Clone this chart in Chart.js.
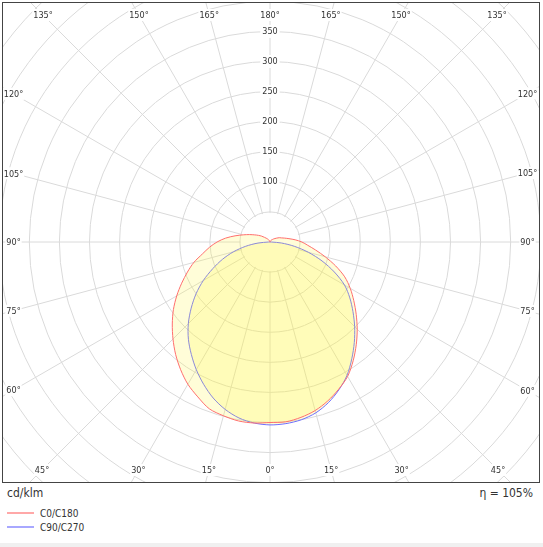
<!DOCTYPE html>
<html>
<head>
<meta charset="utf-8">
<script src="https://cdn.jsdelivr.net/npm/chart.js@4.4.1/dist/chart.umd.min.js"></script>
<style>
  body { margin: 0; background: #fff; font-family: "DejaVu Sans Condensed", "DejaVu Sans", sans-serif; color: #333; }
  #pagina { position: relative; width: 543px; height: 547px; overflow: hidden; }
  #marco { position: absolute; left: 2px; top: 2px; width: 536px; height: 479px; border: 1px solid #444; overflow: hidden; }
  #lienzo { position: absolute; left: -101px; top: -129px; width: 736px; height: 736px; }
  #unidad { position: absolute; left: 7px; top: 486px; font-size: 12px; }
  #eta { position: absolute; right: 10px; top: 486px; font-size: 12px; }
  #leyenda { position: absolute; left: 7px; top: 506px; font-size: 10px; }
  .item { height: 14px; display: flex; align-items: center; }
  .item svg { margin-right: 6px; }
  #pie { position: absolute; left: 0; top: 543px; width: 543px; height: 4px; background: #f0f0f0; }
</style>
</head>
<body>
<div id="pagina">
  <div id="marco">
    <div id="lienzo"><canvas id="grafica"></canvas></div>
  </div>
  <div id="unidad">cd/klm</div>
  <div id="eta">η = 105%</div>
  <div id="leyenda"></div>
  <div id="pie"></div>
</div>
<script>
// Angulos gamma cada 5 grados (0 = abajo, 180 = arriba)
const gamma = [0, 5, 10, 15, 20, 25, 30, 35, 40, 45, 50, 55, 60, 65, 70, 75, 80, 85, 90,
  95, 100, 105, 110, 115, 120, 125, 130, 135, 140, 145, 150, 155, 160, 165, 170, 175, 180];

// Plano C0/C180 (rojo): lado derecho y lado izquierdo, cd/klm
const c0 = [300, 300, 296, 290, 281, 270, 258, 241, 223, 205, 187, 170, 154, 137, 116, 95, 77, 63, 53,
  42, 32, 25, 20, 17, 13, 10, 8, 6, 5, 4, 3, 2, 1.5, 1, 0.5, 0.2, 0];
const c180 = [300, 302, 302, 299, 295, 284, 273, 259, 244, 228, 212, 196, 179, 162, 146, 131, 114, 101, 88,
  74, 59, 46, 36, 28, 22, 17, 12, 9, 7, 5, 4, 3, 2, 1.5, 1, 0.5, 0];

// Plano C90/C270 (azul)
const c90 = [304, 303, 300, 294, 284, 271, 256, 237, 218, 199, 180, 162, 143, 118, 92, 66, 41, 19, 2,
  0, 0, 0, 0, 0, 0, 0, 0, 0, 0, 0, 0, 0, 0, 0, 0, 0, 0];
const c270 = [304, 302, 297, 288, 276, 261, 245, 228, 211, 192, 171, 150, 128, 105, 84, 63, 41, 20, 2,
  0, 0, 0, 0, 0, 0, 0, 0, 0, 0, 0, 0, 0, 0, 0, 0, 0, 0];

const anillosConTexto = [100, 150, 200, 250, 300, 350];
const nombres = ['C0/C180', 'C90/C270'];
const colores = ['rgb(255, 110, 110)', 'rgb(110, 110, 255)'];
const relleno = 'rgba(255, 245, 60, 0.2)';
const eta = 105;

// El radar va en sentido horario desde arriba: derecha 180..0, izquierda 5..175
const n = gamma.length - 1;
const indices = [];
for (let i = 0; i < 2 * n; i++) indices.push(i);
const gammaDe = i => i <= n ? gamma[n - i] : gamma[i - n];
const etiquetas = indices.map(i => gammaDe(i) + '°');
const curva = (der, izq) => indices.map(i => i <= n ? der[n - i] : izq[i - n]);

// Polo del diagrama dentro del marco
const POLO_X = 267;
const POLO_Y = 239;
// Distancias del polo a la linea de textos de angulo
const BORDE = { izq: 256.5, der: 257.5, arr: 227, aba: 228 };

const extras = {
  id: 'extras',
  beforeDatasetsDraw(chart) {
    // Sin radios dentro del primer anillo
    const r = chart.scales.r;
    const ctx = chart.ctx;
    ctx.save();
    ctx.fillStyle = '#fff';
    ctx.beginPath();
    ctx.arc(r.xCenter, r.yCenter, r.getDistanceFromCenterForValue(50) - 1, 0, Math.PI * 2);
    ctx.fill();
    ctx.restore();
  },
  afterDraw(chart) {
    const r = chart.scales.r;
    const ctx = chart.ctx;
    ctx.save();
    ctx.font = '9px "DejaVu Sans Condensed", "DejaVu Sans", sans-serif';
    ctx.textAlign = 'center';
    ctx.textBaseline = 'middle';
    indices.forEach(i => {
      if (gammaDe(i) % 15 !== 0) return;
      const p = r.getPointPosition(i, 100);
      const ux = (p.x - r.xCenter) / 100;
      const uy = (p.y - r.yCenter) / 100;
      let t = Infinity;
      if (ux > 0.001) t = Math.min(t, BORDE.der / ux);
      if (ux < -0.001) t = Math.min(t, BORDE.izq / -ux);
      if (uy > 0.001) t = Math.min(t, BORDE.aba / uy);
      if (uy < -0.001) t = Math.min(t, BORDE.arr / -uy);
      const q = r.getPointPosition(i, t);
      const w = ctx.measureText(etiquetas[i]).width;
      ctx.fillStyle = '#fff';
      ctx.fillRect(q.x - w / 2 - 1, q.y - 6, w + 2, 12);
      ctx.fillStyle = '#333';
      ctx.fillText(etiquetas[i], q.x, q.y + 1);
    });
    ctx.restore();
  }
};

const chart = new Chart(document.getElementById('grafica'), {
  type: 'radar',
  data: {
    labels: etiquetas,
    datasets: [{
      label: nombres[0],
      data: curva(c0, c180),
      borderColor: colores[0],
      backgroundColor: relleno,
      borderWidth: 1,
      pointRadius: 0,
      tension: 0.3,
      fill: 'origin'
    }, {
      label: nombres[1],
      data: curva(c90, c270),
      borderColor: colores[1],
      backgroundColor: relleno,
      borderWidth: 1,
      pointRadius: 0,
      tension: 0.3,
      fill: 'origin'
    }]
  },
  options: {
    responsive: true,
    maintainAspectRatio: false,
    animation: false,
    plugins: { legend: { display: false }, tooltip: { enabled: false } },
    scales: {
      r: {
        min: 0,
        max: 600,
        grid: { circular: true, color: '#dadada', lineWidth: 1 },
        angleLines: {
          color: ctx => gammaDe(ctx.index) % 15 === 0 ? '#dadada' : null,
          lineWidth: 1
        },
        pointLabels: { display: false },
        ticks: {
          stepSize: 50,
          color: '#333',
          font: { family: '"DejaVu Sans Condensed", "DejaVu Sans", sans-serif', size: 9 },
          backdropColor: '#fff',
          showLabelBackdrop: ctx => anillosConTexto.includes(ctx.tick.value),
          callback: v => anillosConTexto.includes(v) ? String(v) : ''
        }
      }
    }
  },
  plugins: [extras]
});

// Colocar el lienzo para que el centro de la escala caiga en el polo
const escala = chart.scales.r;
document.getElementById('lienzo').style.left = (POLO_X - escala.xCenter) + 'px';
document.getElementById('lienzo').style.top = (POLO_Y - escala.yCenter) + 'px';

// Leyenda
document.getElementById('leyenda').innerHTML = nombres.map((nom, k) =>
  `<div class="item"><svg width="27" height="2"><line x1="0" y1="1" x2="27" y2="1" stroke="${colores[k]}" stroke-width="1.2"/></svg>${nom}</div>`
).join('');
document.getElementById('eta').textContent = 'η = ' + eta + '%';
</script>
</body>
</html>
